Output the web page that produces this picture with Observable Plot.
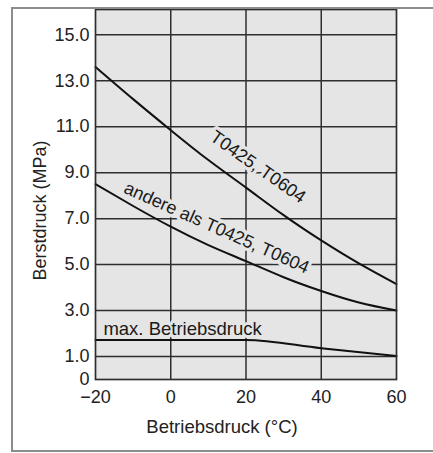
<!DOCTYPE html>
<html>
<head>
<meta charset="utf-8">
<script src="https://cdn.jsdelivr.net/npm/d3@7"></script>
<script src="https://cdn.jsdelivr.net/npm/@observablehq/plot@0.6"></script>
<style>
  html, body { margin: 0; padding: 0; background: #fff; overflow: hidden; }
  #wrap { position: relative; width: 433px; height: 453px; overflow: hidden; }
  #border { position: absolute; left: 11px; top: 7px; width: 440px; height: 441px; border: 2px solid #8c8c8c; pointer-events: none; }
</style>
</head>
<body>
<div id="wrap"><div id="chart"></div><div id="border"></div></div>
<script>
// Temperature (°C) sample points
const temps = [-20, -10, 0, 10, 20, 30, 40, 50, 60];
// Burst pressure (MPa), T0425 / T0604
const burstT0425 = [13.6, 12.2, 10.85, 9.55, 8.35, 7.15, 6.05, 5.05, 4.15];
// Burst pressure (MPa), other than T0425 / T0604
const burstOther = [8.5, 7.55, 6.65, 5.85, 5.15, 4.45, 3.85, 3.35, 3.0];
// Max operating pressure
const maxTemps = [-20, 0, 20, 40, 60];
const maxPressure = [1.72, 1.72, 1.72, 1.36, 1.02];

const xTicks = [-20, 0, 20, 40, 60];
const yTicks = [0, 1, 3, 5, 7, 9, 11, 13, 15];
const yGrid = [1, 3, 5, 7, 9, 11, 13, 15];
const xGrid = [0, 20, 40];

// inline curve labels (anchored in data coordinates)
const curveLabels = ["T0425, T0604", "andere als T0425, T0604"];
const curveLabelT = [23.2, 12.2];
const curveLabelP = [9.25, 6.6];
const curveLabelAngle = [35, 24];
const maxLabel = "max. Betriebsdruck";
const maxLabelT = -17.9;
const maxLabelP = 2.2;

const lineA = temps.map((t, i) => ({t, p: burstT0425[i]}));
const lineB = temps.map((t, i) => ({t, p: burstOther[i]}));
const lineM = maxTemps.map((t, i) => ({t, p: maxPressure[i]}));
const labelRows = curveLabels.map((s, i) => ({s, t: curveLabelT[i], p: curveLabelP[i], a: curveLabelAngle[i]}));

const bg = "#e5e5e5";
const font = "'Liberation Sans', Arial, Helvetica, sans-serif";

const chart = Plot.plot({
  width: 433,
  height: 453,
  marginLeft: 95,
  marginRight: 37,
  marginTop: 9,
  marginBottom: 74,
  style: {fontSize: "18px", fontFamily: font, color: "#222", background: "transparent", overflow: "visible"},
  x: {domain: [-20, 60]},
  y: {domain: [0, 16.1]},
  marks: [
    Plot.frame({fill: bg}),
    Plot.ruleY(yGrid, {stroke: "#2e2e2e", strokeWidth: 1.5}),
    Plot.ruleX(xGrid, {stroke: "#2e2e2e", strokeWidth: 1.5}),
    Plot.text(labelRows, {x: "t", y: "p", text: "s", rotate: "a", textAnchor: "middle", lineAnchor: "middle",
      fill: "#1a1a1a", stroke: bg, strokeWidth: 7, fontSize: 18}),
    Plot.text([maxLabel], {x: [maxLabelT], y: [maxLabelP], text: d => d, textAnchor: "start", lineAnchor: "middle",
      fill: "#1a1a1a", stroke: bg, strokeWidth: 6, fontSize: 18.5}),
    Plot.line(lineA, {x: "t", y: "p", curve: "natural", stroke: "#111", strokeWidth: 2}),
    Plot.line(lineB, {x: "t", y: "p", curve: "natural", stroke: "#111", strokeWidth: 2}),
    Plot.line(lineM, {x: "t", y: "p", curve: "monotone-x", stroke: "#111", strokeWidth: 2}),
    Plot.frame({stroke: "#2e2e2e", strokeWidth: 1.7}),
    Plot.axisY({ticks: yTicks, tickSize: 0, tickPadding: 6, label: null,
      tickFormat: d => d === 0 ? "0" : d.toFixed(1)}),
    Plot.axisX({ticks: xTicks, tickSize: 0, tickPadding: 11, label: null}),
    Plot.text(["Berstdruck (MPa)"], {text: d => d, frameAnchor: "left", textAnchor: "middle", lineAnchor: "middle",
      rotate: -90, dx: -55, dy: 16, fill: "#222"}),
    Plot.text(["Betriebsdruck (°C)"], {text: d => d, frameAnchor: "bottom", textAnchor: "middle", lineAnchor: "middle",
      dx: -24, dy: 48, fill: "#222", fontSize: 18.5})
  ]
});
document.getElementById("chart").appendChild(chart);
</script>
</body>
</html>
